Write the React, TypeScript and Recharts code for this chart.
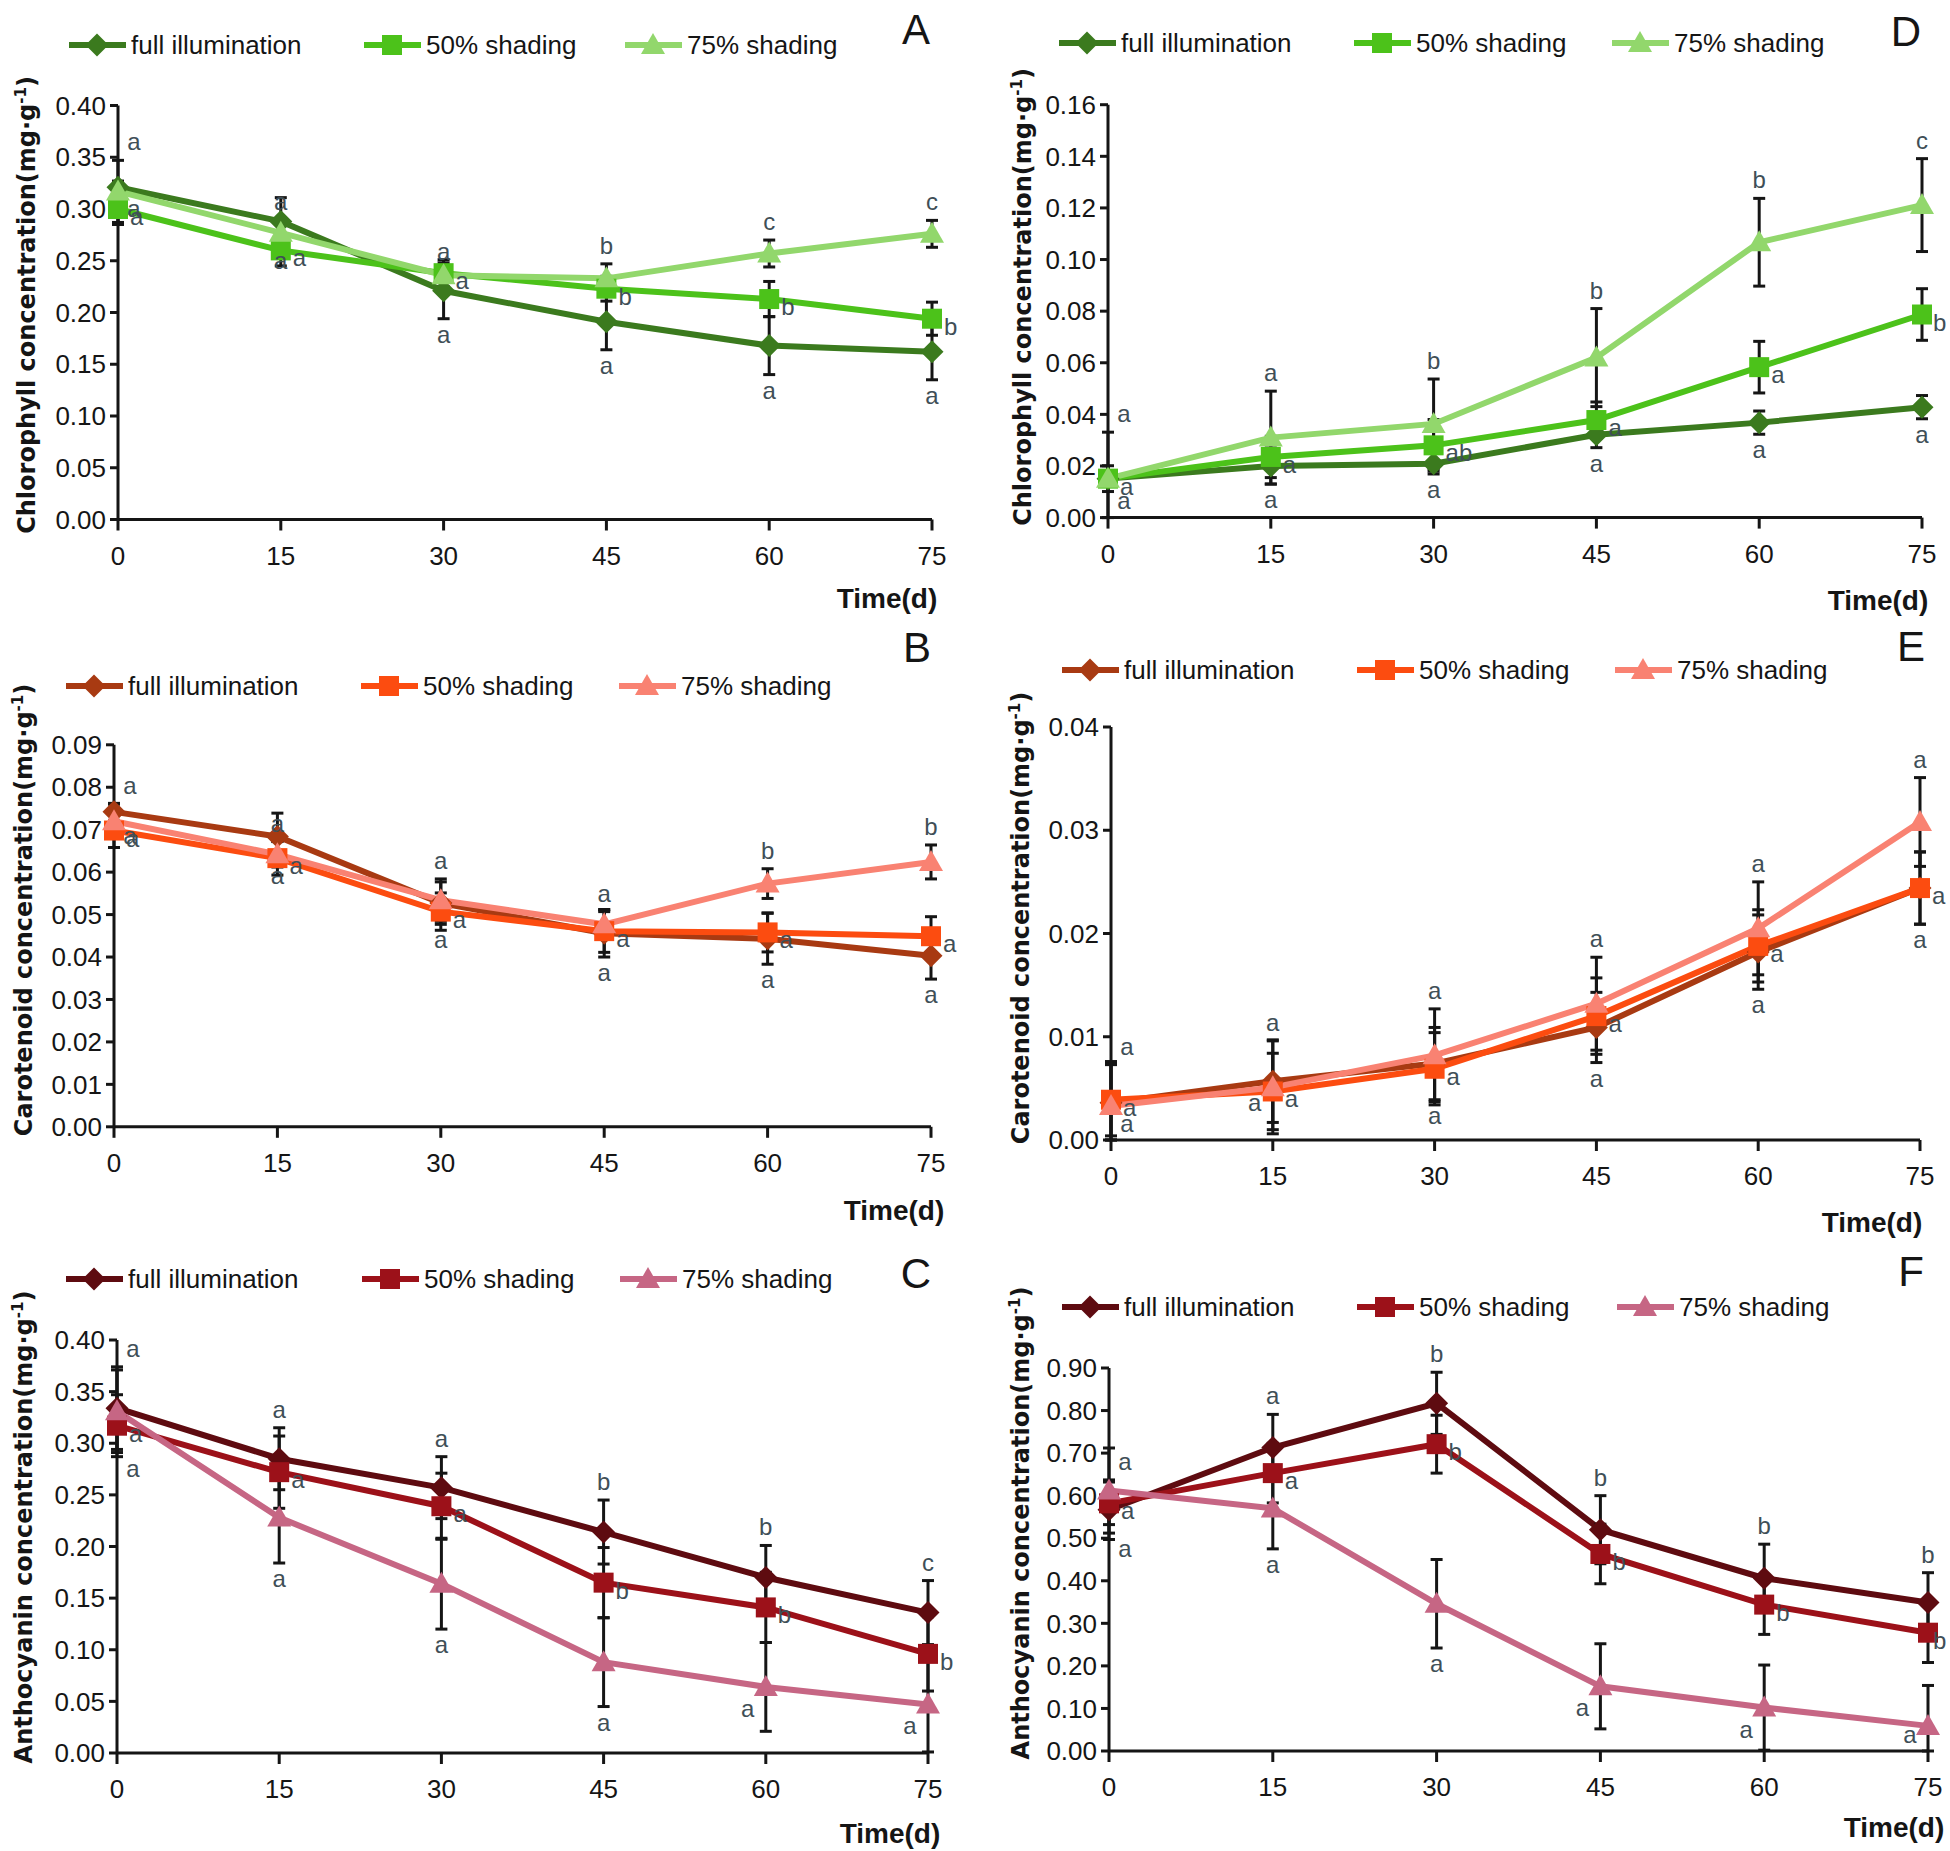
import React from "react"
import { LineChart, Line, XAxis, YAxis, ErrorBar, LabelList } from "recharts"

// time points (d)
const days = [0, 15, 30, 45, 60, 75]
const seriesNames = ["full illumination", "50% shading", "75% shading"]

// A: chlorophyll, left plant
const aFull = [0.321, 0.288, 0.221, 0.191, 0.168, 0.162]
const aFullErr = [0.006, 0.023, 0.027, 0.027, 0.028, 0.027]
const aHalf = [0.3, 0.26, 0.238, 0.223, 0.213, 0.194]
const aHalfErr = [0.015, 0.015, 0.013, 0.012, 0.017, 0.016]
const aQuarter = [0.317, 0.277, 0.236, 0.233, 0.257, 0.276]
const aQuarterErr = [0.03, 0.012, 0.005, 0.014, 0.013, 0.013]
const aFullSig = ["a", "a", "a", "a", "a", "a"]
const aHalfSig = ["a", "a", "a", "b", "b", "b"]
const aQuarterSig = ["a", "a", "a", "b", "c", "c"]
const aTicks = [0, 0.05, 0.1, 0.15, 0.2, 0.25, 0.3, 0.35, 0.4]

// D: chlorophyll, right plant
const dFull = [0.0151, 0.02, 0.0209, 0.0321, 0.0368, 0.0428]
const dFullErr = [0.003, 0.007, 0.004, 0.005, 0.0045, 0.0045]
const dHalf = [0.0151, 0.0235, 0.028, 0.0378, 0.0583, 0.0787]
const dHalfErr = [0.005, 0.008, 0.01, 0.007, 0.01, 0.01]
const dQuarter = [0.0151, 0.031, 0.0363, 0.062, 0.1067, 0.1211]
const dQuarterErr = [0.018, 0.018, 0.0174, 0.019, 0.017, 0.018]
const dFullSig = ["a", "a", "a", "a", "a", "a"]
const dHalfSig = ["a", "a", "ab", "a", "a", "b"]
const dQuarterSig = ["a", "a", "b", "b", "b", "c"]
const dTicks = [0, 0.02, 0.04, 0.06, 0.08, 0.1, 0.12, 0.14, 0.16]

// B: carotenoid, left plant
const bFull = [0.0742, 0.0684, 0.0527, 0.0456, 0.0443, 0.0403]
const bFullErr = [0.002, 0.0055, 0.005, 0.0056, 0.006, 0.0055]
const bHalf = [0.0698, 0.0633, 0.0507, 0.0461, 0.0458, 0.0449]
const bHalfErr = [0.004, 0.004, 0.0044, 0.005, 0.0046, 0.0046]
const bQuarter = [0.072, 0.0642, 0.0534, 0.0477, 0.0573, 0.0624]
const bQuarterErr = [0.004, 0.003, 0.005, 0.003, 0.0035, 0.004]
const bFullSig = ["a", "a", "a", "a", "a", "a"]
const bHalfSig = ["a", "a", "a", "a", "a", "a"]
const bQuarterSig = ["a", "a", "a", "a", "b", "b"]
const bTicks = [0, 0.01, 0.02, 0.03, 0.04, 0.05, 0.06, 0.07, 0.08, 0.09]

// E: carotenoid, right plant
const eFull = [0.0036, 0.0057, 0.0074, 0.0109, 0.0182, 0.0244]
const eFullErr = [0.004, 0.004, 0.0035, 0.0034, 0.0036, 0.0035]
const eHalf = [0.0039, 0.0047, 0.0069, 0.012, 0.0188, 0.0244]
const eHalfErr = [0.0035, 0.0037, 0.0035, 0.0037, 0.0035, 0.0035]
const eQuarter = [0.0033, 0.0051, 0.0082, 0.0132, 0.0205, 0.0308]
const eQuarterErr = [0.004, 0.0045, 0.0045, 0.0045, 0.0045, 0.0043]
const eFullSig = ["a", "a", "a", "a", "a", "a"]
const eHalfSig = ["a", "a", "a", "a", "a", "a"]
const eQuarterSig = ["a", "a", "a", "a", "a", "a"]
const eTicks = [0, 0.01, 0.02, 0.03, 0.04]

// C: anthocyanin, left plant
const cFull = [0.334, 0.285, 0.257, 0.214, 0.17, 0.136]
const cFullErr = [0.04, 0.03, 0.03, 0.031, 0.031, 0.031]
const cHalf = [0.317, 0.272, 0.239, 0.165, 0.141, 0.096]
const cHalfErr = [0.03, 0.035, 0.032, 0.034, 0.034, 0.036]
const cQuarter = [0.331, 0.228, 0.164, 0.088, 0.064, 0.047]
const cQuarterErr = [0.04, 0.044, 0.044, 0.043, 0.043, 0.046]
const cFullSig = ["a", "a", "a", "b", "b", "c"]
const cHalfSig = ["a", "a", "a", "b", "b", "b"]
const cQuarterSig = ["a", "a", "a", "a", "a", "a"]
const cTicks = [0, 0.05, 0.1, 0.15, 0.2, 0.25, 0.3, 0.35, 0.4]

// F: anthocyanin, right plant
const fFull = [0.567, 0.713, 0.817, 0.52, 0.406, 0.349]
const fFullErr = [0.07, 0.078, 0.073, 0.08, 0.08, 0.07]
const fHalf = [0.582, 0.653, 0.721, 0.463, 0.344, 0.278]
const fHalfErr = [0.05, 0.07, 0.068, 0.07, 0.07, 0.07]
const fQuarter = [0.612, 0.57, 0.346, 0.152, 0.102, 0.059]
const fQuarterErr = [0.1, 0.095, 0.104, 0.1, 0.1, 0.095]
const fFullSig = ["a", "a", "b", "b", "b", "b"]
const fHalfSig = ["a", "a", "b", "b", "b", "b"]
const fQuarterSig = ["a", "a", "a", "a", "a", "a"]
const fTicks = [0, 0.1, 0.2, 0.3, 0.4, 0.5, 0.6, 0.7, 0.8, 0.9]

const FONT = '"Liberation Sans", Arial, sans-serif'
const BOLD_FONT = '"DejaVu Sans", Verdana, sans-serif'
const INK = "#151515"
const SIG_INK = "#3f4f57"

const greens = ["#3b7a1e", "#4cc21a", "#92d76c"]
const oranges = ["#a83a12", "#fc4c10", "#f98272"]
const reds = ["#5e0b10", "#9c1119", "#c66684"]
const shapes = ["diamond", "square", "triangle"]
const keys = ["full", "half", "quarter"]

type Place = "above" | "below" | "right"

type PanelCfg = {
  letter: string
  yLabel: string
  colLeft: number
  rowTop: number
  rowH: number
  L: number
  R: number
  T: number
  B: number
  yMax: number
  yTicks: number[]
  vals: number[][]
  errs: number[][]
  sigs: string[][]
  colors: string[]
  place: Place[]
  legendX: number[]
  legendY: number
  letterPos: [number, number]
  timePos: [number, number]
  yLabelPos: [number, number]
}

const panels: PanelCfg[] = [
  {
    letter: "A", yLabel: "Chlorophyll concentration", colLeft: 0, rowTop: 0, rowH: 610,
    L: 118, R: 932, T: 105.5, B: 519.5, yMax: 0.4, yTicks: aTicks,
    vals: [aFull, aHalf, aQuarter], errs: [aFullErr, aHalfErr, aQuarterErr],
    sigs: [aFullSig, aHalfSig, aQuarterSig], colors: greens, place: ["below", "right", "above"],
    legendX: [69, 364, 625], legendY: 45, letterPos: [916, 29], timePos: [887, 598], yLabelPos: [26, 305],
  },
  {
    letter: "D", yLabel: "Chlorophyll concentration", colLeft: 975, rowTop: 0, rowH: 610,
    L: 1108, R: 1922, T: 104.7, B: 517.6, yMax: 0.16, yTicks: dTicks,
    vals: [dFull, dHalf, dQuarter], errs: [dFullErr, dHalfErr, dQuarterErr],
    sigs: [dFullSig, dHalfSig, dQuarterSig], colors: greens, place: ["below", "right", "above"],
    legendX: [1059, 1354, 1612], legendY: 43, letterPos: [1906, 31], timePos: [1878, 600], yLabelPos: [1022, 297],
  },
  {
    letter: "B", yLabel: "Carotenoid concentration", colLeft: 0, rowTop: 610, rowH: 610,
    L: 114, R: 931, T: 744.8, B: 1126.8, yMax: 0.09, yTicks: bTicks,
    vals: [bFull, bHalf, bQuarter], errs: [bFullErr, bHalfErr, bQuarterErr],
    sigs: [bFullSig, bHalfSig, bQuarterSig], colors: oranges, place: ["below", "right", "above"],
    legendX: [66, 361, 619], legendY: 686, letterPos: [917, 647], timePos: [894, 1210], yLabelPos: [23, 910],
  },
  {
    letter: "E", yLabel: "Carotenoid concentration", colLeft: 975, rowTop: 610, rowH: 610,
    L: 1111, R: 1920, T: 727, B: 1140, yMax: 0.04, yTicks: eTicks,
    vals: [eFull, eHalf, eQuarter], errs: [eFullErr, eHalfErr, eQuarterErr],
    sigs: [eFullSig, eHalfSig, eQuarterSig], colors: oranges, place: ["below", "right", "above"],
    legendX: [1062, 1357, 1615], legendY: 670, letterPos: [1911, 646], timePos: [1872, 1222], yLabelPos: [1020, 918],
  },
  {
    letter: "C", yLabel: "Anthocyanin concentration", colLeft: 0, rowTop: 1220, rowH: 631,
    L: 117, R: 928, T: 1340, B: 1753, yMax: 0.4, yTicks: cTicks,
    vals: [cFull, cHalf, cQuarter], errs: [cFullErr, cHalfErr, cQuarterErr],
    sigs: [cFullSig, cHalfSig, cQuarterSig], colors: reds, place: ["above", "right", "below"],
    legendX: [66, 362, 620], legendY: 1279, letterPos: [916, 1273], timePos: [890, 1833], yLabelPos: [23, 1527],
  },
  {
    letter: "F", yLabel: "Anthocyanin concentration", colLeft: 975, rowTop: 1220, rowH: 631,
    L: 1109, R: 1928, T: 1368, B: 1751, yMax: 0.9, yTicks: fTicks,
    vals: [fFull, fHalf, fQuarter], errs: [fFullErr, fHalfErr, fQuarterErr],
    sigs: [fFullSig, fHalfSig, fQuarterSig], colors: reds, place: ["above", "right", "below"],
    legendX: [1062, 1357, 1617], legendY: 1307, letterPos: [1911, 1271], timePos: [1894, 1827], yLabelPos: [1020, 1523],
  },
]

function Marker({ shape, cx, cy, color }: { shape: string; cx: number; cy: number; color: string }) {
  if (shape === "diamond") {
    const r = 11.5
    return <path d={`M${cx} ${cy - r}L${cx + r} ${cy}L${cx} ${cy + r}L${cx - r} ${cy}Z`} fill={color} />
  }
  if (shape === "square") {
    const h = 10
    return <rect x={cx - h} y={cy - h} width={2 * h} height={2 * h} fill={color} />
  }
  return <path d={`M${cx} ${cy - 12}L${cx + 12} ${cy + 9}L${cx - 12} ${cy + 9}Z`} fill={color} />
}

function sigLabel(lp: any, place: Place, errs: number[], vals: number[], ppu: number, axisY: number, id: string) {
  const x = Number(lp.x ?? lp.viewBox?.x)
  const y = Number(lp.y ?? lp.viewBox?.y)
  const i = lp.index ?? 0
  let tx = x
  let ty = y
  let anchor: "middle" | "start" = "middle"
  if (place === "above") ty = y - errs[i] * ppu - 10
  else if (place === "below") {
    ty = y + Math.min(errs[i], vals[i]) * ppu + 24
    // keep letters off the x axis: slide them to the left of the bar instead
    if (ty > axisY - 8) {
      ty = Math.min(y + 30, axisY - 8)
      tx = x - 18
    }
  } else {
    tx = Math.min(x + 12, 958)
    ty = y + 16
    anchor = "start"
  }
  // letters at day 0 sit just right of the y axis
  if (i === 0 && place !== "right") tx = x + 16
  return (
    <text key={`${id}-${i}`} x={tx} y={ty} textAnchor={anchor} fontSize={24} fill={SIG_INK} fontFamily={FONT}>
      {lp.value}
    </text>
  )
}

function Panel({ p }: { p: PanelCfg }) {
  const rows = days.map((d, i) => {
    const row: any = { day: d }
    keys.forEach((k, si) => {
      const v = p.vals[si][i]
      const e = p.errs[si][i]
      row[k] = v
      row[`${k}Err`] = [Math.min(e, v), e]
      row[`${k}Sig`] = p.sigs[si][i]
    })
    return row
  })
  const ppu = (p.B - p.T) / p.yMax
  const axisY = p.B - p.rowTop
  const tickStyle = { fill: INK, fontSize: 26, fontFamily: FONT }

  return (
    <div style={{ position: "absolute", left: p.colLeft, top: p.rowTop }}>
      <LineChart
        width={975}
        height={p.rowH}
        data={rows}
        margin={{
          top: p.T - p.rowTop,
          right: p.colLeft + 975 - p.R,
          left: 0,
          bottom: p.rowH - (p.B - p.rowTop) - 60,
        }}
      >
        <XAxis
          type="number"
          dataKey="day"
          domain={[0, 75]}
          ticks={days}
          interval={0}
          height={60}
          axisLine={{ stroke: INK, strokeWidth: 3 }}
          tickLine={{ stroke: INK, strokeWidth: 3 }}
          tickSize={11}
          tickMargin={16}
          tick={tickStyle}
        />
        <YAxis
          type="number"
          domain={[0, p.yMax]}
          ticks={p.yTicks}
          interval={0}
          width={p.L - p.colLeft}
          axisLine={{ stroke: INK, strokeWidth: 3 }}
          tickLine={{ stroke: INK, strokeWidth: 3 }}
          tickSize={8}
          tickMargin={4}
          tick={tickStyle}
          tickFormatter={(v) => Number(v).toFixed(2)}
        />
        {keys.map((k, si) => (
          <Line
            key={k}
            type="linear"
            dataKey={k}
            stroke={p.colors[si]}
            strokeWidth={6}
            isAnimationActive={false}
            activeDot={false}
            dot={(dp: any) => (
              <Marker key={`${p.letter}${k}${dp.index}`} shape={shapes[si]} cx={dp.cx} cy={dp.cy} color={p.colors[si]} />
            )}
          >
            <ErrorBar dataKey={`${k}Err`} direction="y" width={6} strokeWidth={3} stroke={INK} />
            <LabelList
              dataKey={`${k}Sig`}
              content={(lp: any) =>
                sigLabel(lp, p.place[si], p.errs[si], p.vals[si], ppu, axisY, `${p.letter}${k}`)
              }
            />
          </Line>
        ))}
      </LineChart>
    </div>
  )
}

function Decorations({ p }: { p: PanelCfg }) {
  return (
    <g>
      {seriesNames.map((name, si) => {
        const x0 = p.legendX[si]
        const y = p.legendY
        return (
          <g key={name}>
            <line x1={x0} y1={y} x2={x0 + 57} y2={y} stroke={p.colors[si]} strokeWidth={6} />
            <Marker shape={shapes[si]} cx={x0 + 28} cy={y} color={p.colors[si]} />
            <text x={x0 + 62} y={y + 9} fontSize={26} fontFamily={FONT} fill={INK}>
              {name}
            </text>
          </g>
        )
      })}
      <text x={p.letterPos[0]} y={p.letterPos[1] + 15} textAnchor="middle" fontSize={42} fontFamily={FONT} fill={INK}>
        {p.letter}
      </text>
      <text x={p.timePos[0]} y={p.timePos[1] + 10} textAnchor="middle" fontSize={28} fontWeight="bold" fontFamily={FONT} fill={INK}>
        Time(d)
      </text>
      <text
        transform={`translate(${p.yLabelPos[0] + 9},${p.yLabelPos[1]}) rotate(-90)`}
        textAnchor="middle"
        fontSize={24}
        fontWeight="bold"
        fontFamily={BOLD_FONT}
        fill={INK}
      >
        {p.yLabel}(mg·g
        <tspan dy={-9} fontSize={15}>-1</tspan>
        <tspan dy={9}>)</tspan>
      </text>
    </g>
  )
}

export default function App() {
  return (
    <div style={{ position: "absolute", left: 0, top: 0, width: 1950, height: 1851, background: "#fff" }}>
      {panels.map((p) => (
        <Panel key={p.letter} p={p} />
      ))}
      <svg width={1950} height={1851} style={{ position: "absolute", left: 0, top: 0, pointerEvents: "none" }}>
        {panels.map((p) => (
          <Decorations key={p.letter} p={p} />
        ))}
      </svg>
    </div>
  )
}
